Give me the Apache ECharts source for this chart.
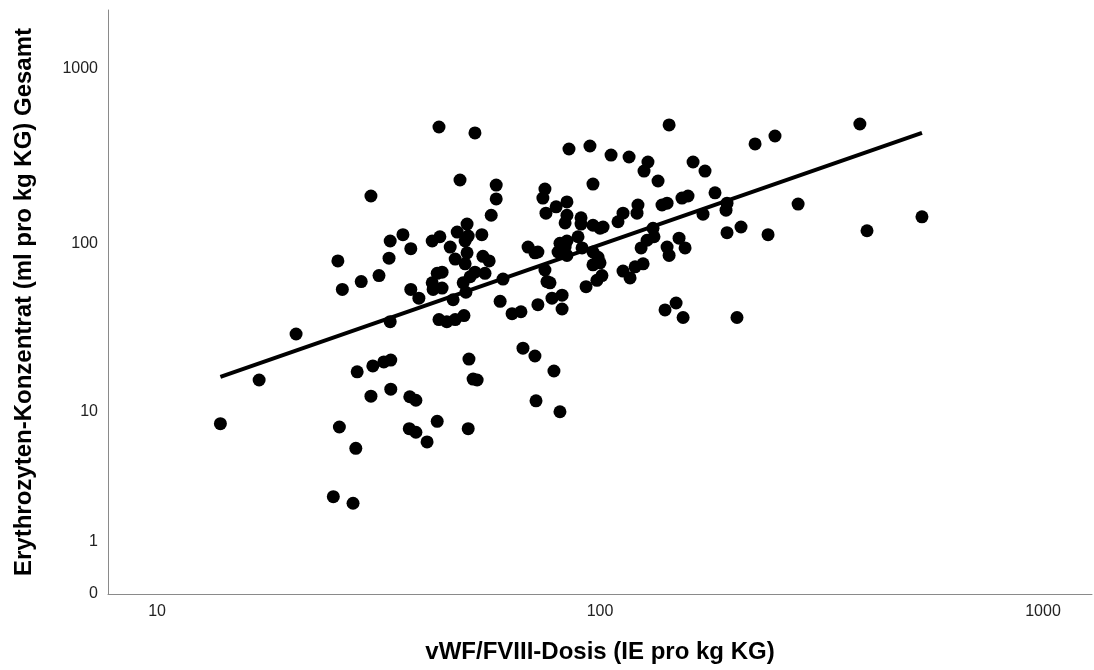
<!DOCTYPE html>
<html>
<head>
<meta charset="utf-8">
<script src="https://cdn.jsdelivr.net/npm/echarts@6/dist/echarts.min.js"></script>
<style>
  html, body { margin: 0; padding: 0; background: #fff; }
  #chart { width: 1094px; height: 670px; }
</style>
</head>
<body>
<div id="chart"></div>
<script>
// vWF/FVIII-Dosis (IE pro kg KG)
var doseX = [
  13.9, 17.0, 20.6, 25.0, 27.7, 25.8, 28.1, 28.3, 30.7, 32.5, 33.7, 30.4, 33.7, 37.2, 38.4, 37.1, 38.4, 40.7, 42.9, 50.6,
  51.7, 52.8, 50.4, 43.3, 52.2, 30.4, 35.9, 33.6, 43.5, 41.8, 37.4, 25.6, 33.4, 31.7, 28.9, 26.2, 44.0, 42.9, 41.8, 42.0,
  44.0, 37.4, 39.0, 33.6, 43.3, 45.1, 47.1, 49.3, 48.3, 58.3, 58.3, 56.8, 50.1, 47.6, 50.4, 54.1, 49.6, 45.9, 50.1, 54.4,
  56.2, 47.1, 49.6, 52.2, 55.0, 50.9, 49.1, 46.6, 49.8, 59.5, 60.4, 63.3, 66.3, 72.4, 77.9, 82.1, 82.1, 67.0, 71.3, 78.7,
  71.7, 81.2, 68.8, 71.3, 72.4, 81.2, 84.2, 83.4, 80.4, 84.2, 89.2, 91.1, 96.4, 99.0, 96.4, 100, 101, 98.4, 93.0, 75.1,
  75.9, 77.1, 75.1, 74.3, 96.4, 75.5, 79.6, 84.2, 84.2, 83.4, 90.6, 90.6, 96.4, 100, 101.6, 109.8, 112.7, 121.2, 121.8, 138.0,
  141.7, 153.1, 158.0, 181.8, 193.5, 192.5, 170.8, 280, 131.7, 132.4, 127.7, 123.8, 141.7, 143.2, 150.8, 155.6, 193.5, 208.1, 239.5, 112.7,
  116.9, 120, 125.1, 140.2, 148.5, 154.0, 203.8, 85.1, 94.9, 105.9, 116.3, 128.3, 125.7, 135.2, 162.2, 172.6, 223.9, 248.3, 143.2, 386,
  400.6, 533
];
// Erythrozyten-Konzentrat (ml pro kg KG) Gesamt
var ekY = [
  8.4, 15.7, 29.6, 2.6, 2.3, 8.0, 5.8, 17.6, 19.1, 20.2, 20.7, 12.5, 13.8, 12.4, 11.8, 7.8, 7.4, 6.4, 8.7, 21.0,
  15.9, 15.7, 7.8, 465, 430, 187, 112, 103, 109, 103, 93, 79, 82, 65, 60, 54, 68, 67, 59, 54,
  55, 54, 48, 35, 36, 35, 36, 38, 231, 216, 180, 145, 129, 116, 110, 112, 103, 95, 88, 84,
  79, 81, 76, 68, 67, 64, 59, 47, 52, 46, 62, 39, 40, 44, 48, 50, 41.5, 24.4, 21.9, 17.8,
  11.7, 10.0, 95, 88, 89, 100, 103, 95, 89, 85, 109, 94, 89, 83, 75, 77, 65, 61, 56, 70,
  60, 59, 205, 182, 219, 149, 162, 173, 145, 131, 140, 129, 127, 122, 124, 133, 149, 149, 166, 166,
  170, 182, 187, 195, 170, 155, 147, 168, 122, 109, 104, 94, 95, 85, 107, 94, 115, 124, 112, 69,
  63, 73, 76, 41, 45, 37, 37, 348, 362, 321, 313, 293, 260, 228, 293, 260, 372, 413, 478, 484,
  118, 142
];
// Anpassungslinie
var fitX = [13.9, 533];
var fitY = [16.4, 430];
var yTicks = [0, 1, 10, 100, 1000];
var xTicks = [10, 100, 1000];

function ylog(v) { return Math.log10(v + 1); }

var points = doseX.map(function (x, i) { return [x, ylog(ekY[i])]; });
var fitLine = fitX.map(function (x, i) { return [x, ylog(fitY[i])]; });

var chart = echarts.init(document.getElementById('chart'));
chart.setOption({
  animation: false,
  textStyle: { fontFamily: 'Liberation Sans, Arial, sans-serif' },
  grid: { left: 108, right: 2, top: 10, bottom: 76 },
  xAxis: {
    type: 'log',
    logBase: 10,
    min: 7.75,
    max: 1290,
    name: 'vWF/FVIII-Dosis (IE pro kg KG)',
    nameLocation: 'middle',
    nameGap: 46,
    nameTextStyle: { fontSize: 24, fontWeight: 'bold', color: '#000' },
    axisLine: { lineStyle: { color: '#8a8a8a', width: 1 } },
    axisTick: { show: false },
    splitLine: { show: false },
    axisLabel: {
      fontSize: 16, color: '#222', margin: 10,
      showMinLabel: false, showMaxLabel: false,
      formatter: function (v) { return xTicks.indexOf(Math.round(v)) >= 0 ? String(Math.round(v)) : ''; }
    }
  },
  yAxis: {
    type: 'value',
    min: 0,
    max: 3.337,
    name: 'Erythrozyten-Konzentrat (ml pro kg KG) Gesamt',
    nameLocation: 'middle',
    nameGap: 72,
    nameTextStyle: { fontSize: 24, fontWeight: 'bold', color: '#000' },
    axisLine: { show: true, lineStyle: { color: '#8a8a8a', width: 1 } },
    axisTick: { show: false },
    splitLine: { show: false },
    axisLabel: {
      fontSize: 16, color: '#222', margin: 10,
      padding: [6, 0, 0, 0],
      customValues: yTicks.map(ylog),
      formatter: function (v) { return String(Math.round(Math.pow(10, v) - 1)); }
    }
  },
  series: [{
    type: 'scatter',
    data: points,
    symbol: 'circle',
    symbolSize: 13,
    itemStyle: { color: '#000', opacity: 1 }
  }, {
    type: 'line',
    data: fitLine,
    showSymbol: false,
    lineStyle: { color: '#000', width: 4 }
  }]
});
</script>
</body>
</html>
